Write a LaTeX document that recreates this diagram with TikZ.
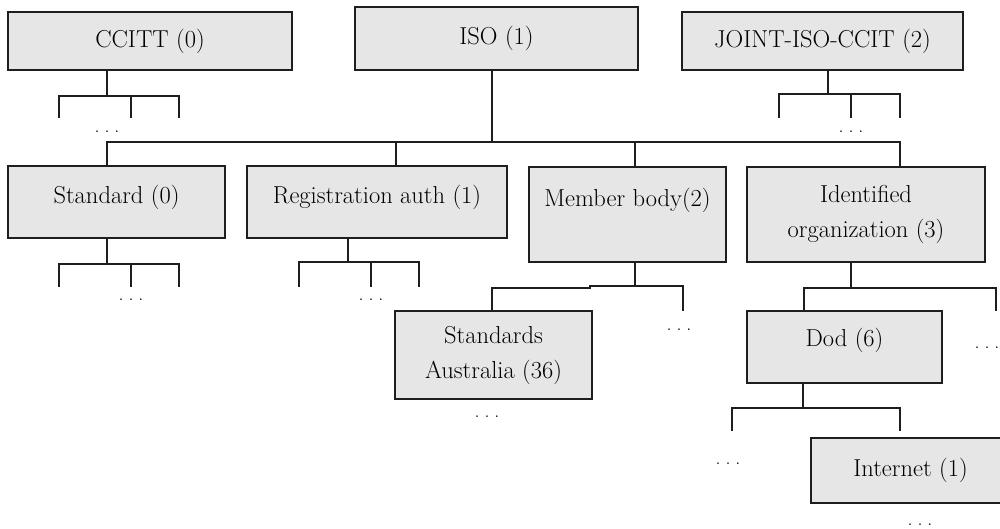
\documentclass[tikz,border=0pt]{standalone}
\usepackage{fontspec}
\definecolor{linec}{RGB}{30,30,30}
\definecolor{boxfill}{RGB}{230,230,230}
\newcommand\oidboxfont{\fontsize{24.5}{35}\selectfont}
\newcommand\oiddotfont{\fontsize{20}{22}\selectfont}
\newcommand\oiddots{.\kern4.8pt.\kern4.8pt.}
\tikzset{
  oidbox/.style={draw=linec, fill=boxfill, line width=1.6pt, rectangle, inner sep=0pt,
    font=\oidboxfont, align=center, text=black},
  conn/.style={draw=linec, line width=1.6pt},
  dotsn/.style={inner sep=0pt, font=\oiddotfont, text=black}
}
\begin{document}
\begin{tikzpicture}[x=1pt,y=-1pt]
\useasboundingbox (0,0) rectangle (1000,529);
\clip (0,0) rectangle (1000,529);
\fill[white] (0,0) rectangle (1000,529);

% boxes
\node[oidbox, minimum width=284pt, minimum height=58pt] (ccitt) at (150,41) {CCITT (0)};
\node[oidbox, minimum width=283pt, minimum height=63pt] (iso) at (496.5,38.5) {ISO (1)};
\node[oidbox, minimum width=281pt, minimum height=58pt] (joint) at (822.5,41) {JOINT-ISO-CCIT (2)};
\node[oidbox, minimum width=217pt, minimum height=72pt, text depth=15.5pt] (std) at (116.5,202) {Standard (0)};
\node[oidbox, minimum width=260pt, minimum height=72pt, text depth=15.5pt] (reg) at (377,202) {Registration auth (1)};
\node[oidbox, minimum width=197pt, minimum height=95pt] (mem) at (627.5,214.5) {Member body(2)\\\mbox{}};
\node[oidbox, minimum width=238pt, minimum height=95pt] (ident) at (866,214.5) {Identified\\organization (3)};
\node[oidbox, minimum width=197pt, minimum height=88pt] (sa) at (493.5,355) {Standards\\Australia (36)};
\node[oidbox, minimum width=195pt, minimum height=72pt, text depth=19.5pt] (dod) at (844.5,347) {Dod (6)};
\node[oidbox, minimum width=199pt, minimum height=65pt] (inet) at (910.5,470.5) {Internet (1)};

% CCITT branches
\coordinate (cj) at (107,96);
\coordinate (c1) at (59,118);
\coordinate (c2) at (131,118);
\coordinate (c3) at (179,118);
\draw[conn] ([xshift=-43pt]ccitt.south) -- (cj);
\draw[conn] (c1) |- (c3 |- cj) -- (c3);
\draw[conn] (c2) -- (c2 |- cj);
\node[dotsn] (cd) at (107,132) {\oiddots};

% JOINT branches
\coordinate (jj) at (828,94);
\coordinate (j1) at (779,118);
\coordinate (j2) at (851,118);
\coordinate (j3) at (900,118);
\draw[conn] ([xshift=5.5pt]joint.south) -- (jj);
\draw[conn] (j1) |- (j3 |- jj) -- (j3);
\draw[conn] (j2) -- (j2 |- jj);
\node[dotsn] (jd) at (851,132) {\oiddots};

% ISO branches
\coordinate (isoj) at (492,142);
\draw[conn] ([xshift=-4.5pt]iso.south) -- (isoj);
\draw[conn] ([xshift=-9.5pt]std.north) |- ([xshift=34pt]ident.north |- isoj) -- ([xshift=34pt]ident.north);
\draw[conn] ([xshift=19pt]reg.north) -- ([xshift=19pt]reg.north |- isoj);
\draw[conn] ([xshift=7.5pt]mem.north) -- ([xshift=7.5pt]mem.north |- isoj);

% Standard branches
\coordinate (sj) at (107,264);
\coordinate (s1) at (59,287);
\coordinate (s2) at (131,287);
\coordinate (s3) at (179,287);
\draw[conn] ([xshift=-9.5pt]std.south) -- (sj);
\draw[conn] (s1) |- (s3 |- sj) -- (s3);
\draw[conn] (s2) -- (s2 |- sj);
\node[dotsn] (sd) at (131,300) {\oiddots};

% Registration branches
\coordinate (rj) at (348,262);
\coordinate (r1) at (299,287);
\coordinate (r2) at (371,287);
\coordinate (r3) at (419,287);
\draw[conn] ([xshift=-29pt]reg.south) -- (rj);
\draw[conn] (r1) |- (r3 |- rj) -- (r3);
\draw[conn] (r2) -- (r2 |- rj);
\node[dotsn] (rd) at (371,300) {\oiddots};

% Member body branches
\coordinate (mj) at (635,286);
\coordinate (mk1) at (590,288);
\coordinate (mk2) at (590,286);
\coordinate (m3) at (683,311);
\draw[conn] ([xshift=7.5pt]mem.south) -- (mj);
\draw[conn] ([xshift=-1.5pt]sa.north) |- (mk1) -- (mk2) -| (m3);
\node[dotsn] (md) at (679,330) {\oiddots};
\node[dotsn] (sad) at (487,417) {\oiddots};

% Identified organization branches
\coordinate (ij) at (851,288);
\coordinate (i3) at (996,311);
\draw[conn] ([xshift=-15pt]ident.south) -- (ij);
\draw[conn] ([xshift=-40.5pt]dod.north) |- (i3 |- ij) -- (i3);
\node[dotsn] (idd) at (987,348) {\oiddots};

% Dod branches
\coordinate (dj) at (803,408);
\coordinate (d1) at (732,431);
\coordinate (d3) at (900,431);
\draw[conn] ([xshift=-41.5pt]dod.south) -- (dj);
\draw[conn] (d1) |- (d3 |- dj) -- (d3);
\node[dotsn] (dd) at (728,464) {\oiddots};
\node[dotsn] (ind) at (920,525) {\oiddots};
\end{tikzpicture}
\end{document}
